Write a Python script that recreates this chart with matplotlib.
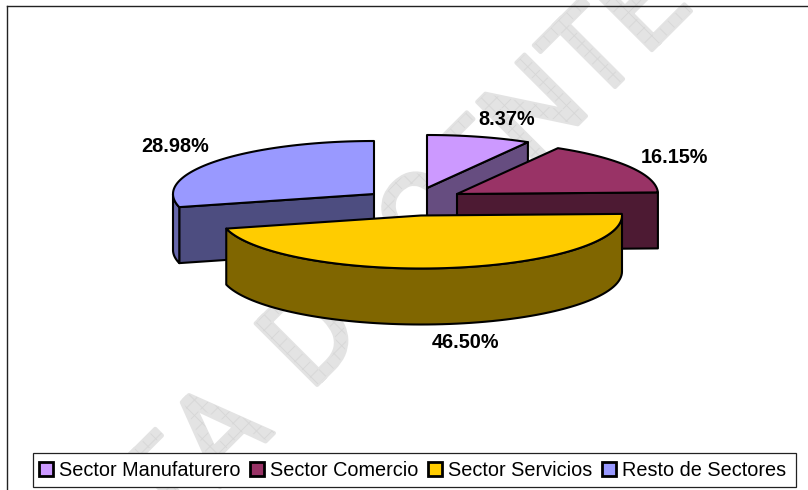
import numpy as np
import matplotlib
matplotlib.use("Agg")
import matplotlib.pyplot as plt
import matplotlib.patheffects as pe
from matplotlib.collections import LineCollection
from matplotlib.font_manager import FontProperties
from matplotlib.patches import Patch, Polygon, Rectangle
from matplotlib.textpath import TextPath
from matplotlib.transforms import Affine2D, IdentityTransform
from matplotlib.path import Path

# Data
sectors = ["Sector Manufaturero", "Sector Comercio", "Sector Servicios", "Resto de Sectores"]
shares = [8.37, 16.15, 46.50, 28.98]
top_colors = ["#CC99FF", "#993366", "#FFCC00", "#9999FF"]
side_colors = ["#664D80", "#4D1A33", "#806600", "#4D4D80"]
rim_colors = ["#7A5C99", "#5C1F3D", "#806600", "#6666AA"]

# Layout of the exploded pie, in pixels of the image
centers = [(427, 188), (457, 194), (421, 215.5), (374, 194)]
label_pos = [(507, 119), (674, 157), (466, 342), (175, 146)]
rx, ry, depth = 201, 53, 56
draw_order = [0, 1, 3, 2]

plt.rcParams["font.family"] = ["Liberation Sans", "DejaVu Sans"]

fig = plt.figure(figsize=(8.08, 4.9), dpi=100)
ax = fig.add_axes([0, 0, 1, 1])
ax.set_xlim(0, 808)
ax.set_ylim(490, 0)
ax.axis("off")

# Watermark: rotated grey text with a faint grid clipped to the letters
wm_size = 88
wm_font = FontProperties(family="Roboto")
wm_grey = "#E3E3E3"
wm = dict(fontproperties=wm_font, fontsize=wm_size, color=wm_grey, rotation=45,
          rotation_mode="anchor", va="baseline", zorder=1,
          path_effects=[pe.withStroke(linewidth=3, foreground=wm_grey)])
ax.text(275, 432, "VISTA", ha="right", **wm)
ax.text(310, 392, "DOCENTE", ha="left", **wm)

grid = []
for d in np.arange(-500, 1400, 15.5):
    grid.append([(d, 0), (d + 490, 490)])
    grid.append([(d, 490), (d + 490, 0)])
verts, codes = [], []
for word, x, y, right in (("VISTA", 275, 432, True), ("DOCENTE", 310, 392, False)):
    tp = TextPath((0, 0), word, size=wm_size, prop=wm_font)
    shift = -tp.get_extents().x1 if right else 0
    moved = tp.transformed(Affine2D().translate(shift, 0).scale(100 / 72).rotate_deg(45).translate(x, 490 - y))
    verts.append(moved.vertices)
    codes.append(moved.codes)
letters = Path(np.vstack(verts), np.concatenate(codes))
lines = LineCollection(grid, colors="#D6D6D6", linewidths=0.6, zorder=1.5)
ax.add_collection(lines)
lines.set_clip_path(letters, IdentityTransform())

# Outer frame (runs off the right and bottom of the picture)
ax.plot([7, 7], [490, 6], color="#222222", lw=1, zorder=2)
ax.plot([7, 808], [6, 6], color="#222222", lw=1, zorder=2)


def rim(c, a, b, drop=0):
    t = np.radians(np.linspace(a, b, 80))
    return np.column_stack([c[0] + rx * np.sin(t), c[1] - ry * np.cos(t) + drop])


edges = np.cumsum([0] + shares) / sum(shares) * 360

for z, i in enumerate(draw_order):
    c = centers[i]
    a, b = edges[i], edges[i + 1]
    zo = 3 + z * 0.1
    style = dict(edgecolor="black", lw=1.5, joinstyle="round", zorder=zo)
    # radial wall facing the viewer
    for angle, show in ((a, a > 180), (b, b < 180)):
        if show:
            end = rim(c, angle, angle, 0)[0]
            wall = [c, end, (end[0], end[1] + depth), (c[0], c[1] + depth)]
            ax.add_patch(Polygon(wall, facecolor=side_colors[i], **style))
    # outer wall, only the part between 90 and 270 degrees is seen
    lo, hi = max(a, 90), min(b, 270)
    if lo < hi:
        outer = np.vstack([rim(c, lo, hi), rim(c, hi, lo, depth)])
        ax.add_patch(Polygon(outer, facecolor=rim_colors[i], **style))
    top = np.vstack([[c], rim(c, a, b)])
    ax.add_patch(Polygon(top, facecolor=top_colors[i], **style))

for share, pos in zip(shares, label_pos):
    ax.text(pos[0], pos[1], f"{share:.2f}%", fontsize=14.3, fontweight="bold",
            ha="center", va="center", color="black", zorder=5)

# Legend box is wider than its entries in the reference
ax.add_patch(Rectangle((33, 453), 763, 34, facecolor="white", edgecolor="#222222", lw=0.9, zorder=5.5))
handles = [Patch(facecolor=t, edgecolor="black", lw=2) for t in top_colors]
leg = ax.legend(handles, sectors, ncol=4, loc="center left", bbox_to_anchor=(33, 470),
                bbox_transform=ax.transData, borderaxespad=0, fontsize=14.3,
                handlelength=0.7, handleheight=0.7, handletextpad=0.3, columnspacing=0.5,
                borderpad=0.3, frameon=False)
leg.set_zorder(6)

fig.savefig("out.png", dpi=100)
